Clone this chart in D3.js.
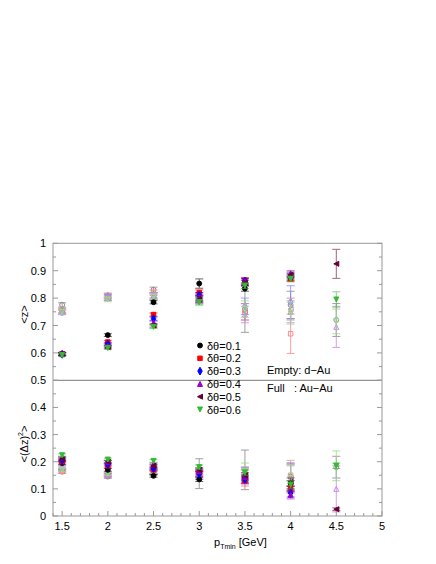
<!DOCTYPE html>
<html>
<head>
<meta charset="utf-8">
<script src="https://cdn.jsdelivr.net/npm/d3@7"></script>
<style>
body { margin: 0; background: #fff; }
text { font-family: "Liberation Sans", Arial, sans-serif; }
</style>
</head>
<body>
<div id="container"></div>
<script>
// pT bins
var pt = [1.5, 2, 2.5, 3, 3.5, 4, 4.5];
var labels = ['\u03b4\u03b8=0.1', '\u03b4\u03b8=0.2', '\u03b4\u03b8=0.3', '\u03b4\u03b8=0.4', '\u03b4\u03b8=0.5', '\u03b4\u03b8=0.6'];

// <z>, Au-Au (full)
var zAuAu = [
    [0.597, 0.665, 0.785, 0.853, 0.835, 0.875, null],
    [0.597, 0.640, 0.740, 0.820, 0.865, 0.870, null],
    [0.595, 0.632, 0.725, 0.810, 0.862, 0.880, null],
    [0.595, 0.625, 0.710, 0.800, 0.860, 0.890, null],
    [0.595, 0.620, 0.700, 0.795, 0.855, 0.885, 0.925],
    [0.592, 0.618, 0.695, 0.785, 0.845, 0.870, 0.795]
];
var zAuAuErr = [
    [0.005, 0.005, 0.006, 0.017, 0.010, 0.010, null],
    [0.005, 0.005, 0.006, 0.010, 0.010, 0.010, null],
    [0.005, 0.005, 0.006, 0.010, 0.010, 0.010, null],
    [0.005, 0.005, 0.006, 0.010, 0.010, 0.010, null],
    [0.005, 0.005, 0.006, 0.010, 0.010, 0.010, 0.053],
    [0.005, 0.005, 0.006, 0.010, 0.010, 0.010, 0.028]
];
// <z>, d-Au (empty)
var zdAu = [
    [0.775, 0.810, 0.830, 0.805, 0.760, 0.775, 0.720],
    [0.755, 0.808, 0.820, 0.800, 0.750, 0.670, null],
    [0.750, 0.805, 0.810, 0.800, 0.770, 0.785, null],
    [0.748, 0.800, 0.810, 0.795, 0.740, 0.750, 0.695],
    [0.752, 0.800, 0.805, 0.795, 0.750, 0.760, null],
    [0.750, 0.795, 0.805, 0.790, 0.760, 0.745, 0.715]
];
var zdAuErr = [
    [0.008, 0.008, 0.010, 0.015, 0.085, 0.050, 0.060],
    [0.008, 0.008, 0.010, 0.015, 0.030, 0.072, null],
    [0.008, 0.008, 0.010, 0.015, 0.030, 0.060, null],
    [0.008, 0.008, 0.010, 0.015, 0.030, 0.040, 0.075],
    [0.008, 0.008, 0.010, 0.015, 0.030, 0.040, null],
    [0.008, 0.008, 0.010, 0.015, 0.030, 0.040, 0.045]
];
// <(dz)^2>, Au-Au (full)
var dzAuAu = [
    [0.195, 0.170, 0.148, 0.135, 0.140, 0.120, null],
    [0.200, 0.185, 0.170, 0.160, 0.130, 0.100, null],
    [0.205, 0.190, 0.175, 0.155, 0.135, 0.085, null],
    [0.215, 0.200, 0.190, 0.165, 0.145, 0.078, null],
    [0.210, 0.200, 0.185, 0.170, 0.150, 0.125, 0.025],
    [0.224, 0.208, 0.203, 0.180, 0.160, 0.115, 0.185]
];
var dzAuAuErr = [
    [0.005, 0.005, 0.005, 0.008, 0.010, 0.010, null],
    [0.005, 0.005, 0.005, 0.008, 0.010, 0.010, null],
    [0.005, 0.005, 0.005, 0.008, 0.010, 0.015, null],
    [0.005, 0.005, 0.005, 0.008, 0.010, 0.015, null],
    [0.005, 0.005, 0.005, 0.008, 0.010, 0.015, 0.005],
    [0.005, 0.005, 0.005, 0.008, 0.010, 0.015, 0.010]
];
// <(dz)^2>, d-Au (empty)
var dzdAu = [
    [0.163, 0.145, 0.160, 0.156, 0.170, 0.145, 0.180],
    [0.165, 0.150, 0.160, 0.150, 0.140, 0.150, null],
    [0.180, 0.155, 0.165, 0.155, 0.150, 0.140, null],
    [0.175, 0.150, 0.165, 0.150, 0.145, 0.135, 0.100],
    [0.170, 0.150, 0.160, 0.150, 0.150, 0.140, null],
    [0.170, 0.155, 0.165, 0.160, 0.165, 0.140, 0.185]
];
var dzdAuErr = [
    [0.006, 0.006, 0.008, 0.055, 0.073, 0.050, 0.040],
    [0.006, 0.006, 0.008, 0.015, 0.030, 0.055, null],
    [0.006, 0.006, 0.008, 0.015, 0.030, 0.055, null],
    [0.006, 0.006, 0.008, 0.015, 0.030, 0.050, 0.085],
    [0.006, 0.006, 0.008, 0.015, 0.030, 0.050, null],
    [0.006, 0.006, 0.008, 0.015, 0.030, 0.050, 0.055]
];

var colors = ['#000000', '#ff0000', '#0000ff', '#9900cc', '#660033', '#33bb33'];
var lightColors = ['#888888', '#ff8888', '#8888ff', '#cc88ee', '#bb88aa', '#99dd88'];
var shapes = ['circle', 'square', 'diamond', 'up', 'left', 'down'];

var w = 436, h = 564;
var svg = d3.select('#container').append('svg')
    .attr('width', w).attr('height', h);

var x = d3.scaleLinear().domain([1.4, 5]).range([53, 382]);
var yTop = d3.scaleLinear().domain([0.5, 1]).range([380.3, 243.3]);
var yBot = d3.scaleLinear().domain([0, 0.5]).range([516, 380.3]);

var axisColor = '#999';

// frame
svg.append('rect')
    .attr('x', x(1.4)).attr('y', yTop(1))
    .attr('width', x(5) - x(1.4)).attr('height', yBot(0) - yTop(1))
    .attr('fill', 'none').attr('stroke', axisColor).attr('stroke-width', 1);
svg.append('line')
    .attr('x1', x(1.4)).attr('x2', x(5))
    .attr('y1', yTop(0.5)).attr('y2', yTop(0.5))
    .attr('stroke', '#777').attr('stroke-width', 1);

// y ticks, both panels, left and right sides
function yTicks(scale, lo, hi, labelTicks) {
    var ticks = d3.range(lo, hi + 0.0001, 0.05);
    ticks.forEach(function(t) {
        var major = Math.abs(Math.round(t * 10) - t * 10) < 0.001;
        var len = major ? 5 : 3;
        svg.append('line')
            .attr('x1', x(1.4)).attr('x2', x(1.4) + len)
            .attr('y1', scale(t)).attr('y2', scale(t))
            .attr('stroke', axisColor);
        svg.append('line')
            .attr('x1', x(5)).attr('x2', x(5) - len)
            .attr('y1', scale(t)).attr('y2', scale(t))
            .attr('stroke', axisColor);
    });
    labelTicks.forEach(function(t) {
        svg.append('text')
            .attr('x', 46).attr('y', scale(t) + 4)
            .attr('text-anchor', 'end')
            .attr('font-size', 11)
            .text(d3.format('')(t));
    });
}
yTicks(yTop, 0.5, 1, [0.5, 0.6, 0.7, 0.8, 0.9, 1]);
yTicks(yBot, 0, 0.5, [0, 0.1, 0.2, 0.3, 0.4]);

// x ticks
d3.range(1.4, 5.0001, 0.1).forEach(function(t) {
    var major = Math.abs(Math.round(t * 2) - t * 2) < 0.001;
    var len = major ? 5 : 3;
    svg.append('line')
        .attr('x1', x(t)).attr('x2', x(t))
        .attr('y1', yBot(0)).attr('y2', yBot(0) - len)
        .attr('stroke', axisColor);
});
[1.5, 2, 2.5, 3, 3.5, 4, 4.5, 5].forEach(function(t) {
    svg.append('text')
        .attr('x', x(t)).attr('y', 530)
        .attr('text-anchor', 'middle')
        .attr('font-size', 11)
        .text(t);
});

// axis titles
var xt = svg.append('text').attr('x', 214).attr('y', 546).attr('font-size', 11);
xt.append('tspan').text('p');
xt.append('tspan').attr('font-size', 7).attr('dy', 3).text('Tmin');
xt.append('tspan').attr('dy', -3).text(' [GeV]');

svg.append('text')
    .attr('transform', 'translate(28,' + yTop(0.74) + ') rotate(-90)')
    .attr('text-anchor', 'middle').attr('font-size', 11)
    .text('<z>');
var yt2 = svg.append('text')
    .attr('transform', 'translate(28,' + yBot(0.265) + ') rotate(-90)')
    .attr('text-anchor', 'middle').attr('font-size', 11);
yt2.append('tspan').text('<(\u0394z)');
yt2.append('tspan').attr('font-size', 7).attr('dy', -5).text('2');
yt2.append('tspan').attr('dy', 5).text('>');

// marker path
function markerPath(shape, s) {
    switch (shape) {
        case 'circle': return d3.symbol().type(d3.symbolCircle).size(s * s * 0.75)();
        case 'square': return d3.symbol().type(d3.symbolSquare).size(s * s * 0.8)();
        case 'diamond': return d3.symbol().type(d3.symbolDiamond).size(s * s * 0.7)();
        case 'up': return 'M0,' + (-s / 2) + 'L' + (s / 2) + ',' + (s / 2) + 'L' + (-s / 2) + ',' + (s / 2) + 'Z';
        case 'down': return 'M0,' + (s / 2) + 'L' + (s / 2) + ',' + (-s / 2) + 'L' + (-s / 2) + ',' + (-s / 2) + 'Z';
        case 'left': return 'M' + (-s / 2) + ',0L' + (s / 2) + ',' + (-s / 2) + 'L' + (s / 2) + ',' + (s / 2) + 'Z';
    }
}

function drawSeries(vals, errs, yScale, i, filled) {
    var col = filled ? colors[i] : lightColors[i];
    var pts = [];
    vals.forEach(function(v, k) {
        if (v !== null) pts.push({ x: pt[k], y: v, e: errs[k] });
    });
    var g = svg.append('g');
    var eb = g.selectAll('g.err').data(pts).enter().append('g')
        .attr('stroke', col).attr('stroke-width', 1)
        .attr('opacity', filled ? 0.6 : 0.8);
    eb.append('line')
        .attr('x1', function(d) { return x(d.x); })
        .attr('x2', function(d) { return x(d.x); })
        .attr('y1', function(d) { return yScale(d.y - d.e); })
        .attr('y2', function(d) { return yScale(d.y + d.e); });
    [-1, 1].forEach(function(sgn) {
        eb.append('line')
            .attr('x1', function(d) { return x(d.x) - 4; })
            .attr('x2', function(d) { return x(d.x) + 4; })
            .attr('y1', function(d) { return yScale(d.y + sgn * d.e); })
            .attr('y2', function(d) { return yScale(d.y + sgn * d.e); });
    });
    g.selectAll('path.m').data(pts).enter().append('path')
        .attr('d', markerPath(shapes[i], 5))
        .attr('transform', function(d) { return 'translate(' + x(d.x) + ',' + yScale(d.y) + ')'; })
        .attr('fill', filled ? col : 'none')
        .attr('stroke', col)
        .attr('stroke-width', 1);
}

// empty d-Au first, full Au-Au on top
for (var i = 0; i < 6; i++) {
    drawSeries(zdAu[i], zdAuErr[i], yTop, i, false);
    drawSeries(dzdAu[i], dzdAuErr[i], yBot, i, false);
}
for (var j = 0; j < 6; j++) {
    drawSeries(zAuAu[j], zAuAuErr[j], yTop, j, true);
    drawSeries(dzAuAu[j], dzAuAuErr[j], yBot, j, true);
}

// legend
labels.forEach(function(l, i) {
    var ly = 345.5 + i * 12.8;
    svg.append('path')
        .attr('d', markerPath(shapes[i], 5))
        .attr('transform', 'translate(200,' + ly + ')')
        .attr('fill', colors[i]).attr('stroke', colors[i]);
    svg.append('text')
        .attr('x', 207).attr('y', ly + 4)
        .attr('font-size', 11)
        .text(l);
});
svg.append('text').attr('x', 267).attr('y', 374).attr('font-size', 11).text('Empty: d\u2212Au');
svg.append('text').attr('x', 267).attr('y', 392).attr('font-size', 11).style('white-space', 'pre').text('Full   : Au\u2212Au');
</script>
</body>
</html>
